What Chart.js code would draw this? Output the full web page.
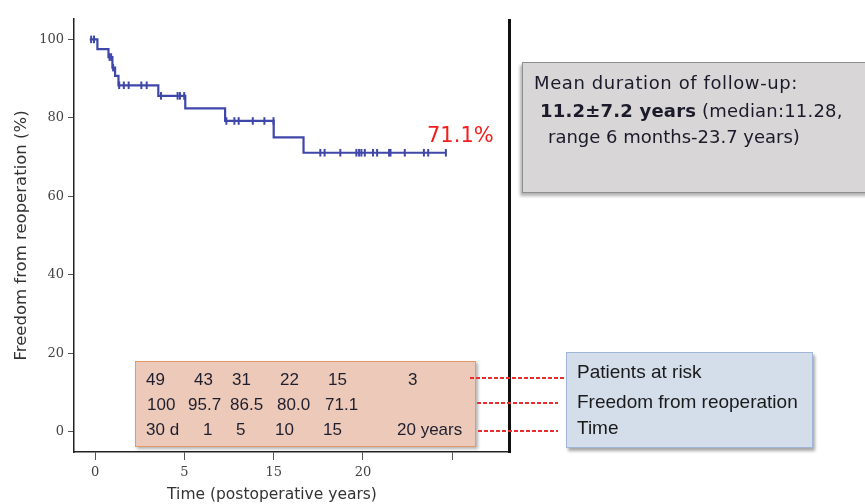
<!DOCTYPE html>
<html>
<head>
<meta charset="utf-8">
<script src="https://cdn.jsdelivr.net/npm/chart.js@4.4.1/dist/chart.umd.min.js"></script>
<style>
  html, body { margin: 0; padding: 0; background: #fff; }
  #wrap { position: relative; width: 865px; height: 504px; overflow: hidden; }
  canvas { position: absolute; left: 0; top: 0; }
  .abs { position: absolute; white-space: nowrap; }
  .box { position: absolute; box-sizing: border-box; }
  .dash { position: absolute; height: 2px;
    background: repeating-linear-gradient(90deg, #e62e2e 0 4px, transparent 4px 6px); }
  .tbl { font-family: "Liberation Sans", Arial, sans-serif; font-size: 17px; line-height: 20px; color: #1e1e2e; }
  .lbl { font-family: "Liberation Sans", Arial, sans-serif; font-size: 19px; line-height: 22px; color: #1a1a1a; }
  .gry { font-family: "DejaVu Sans", sans-serif; font-size: 18px; line-height: 22px; color: #1a1a2a; }
</style>
</head>
<body>
<div id="wrap">
  <canvas id="kmChart" width="865" height="504"></canvas>
</div>
<script>
// Kaplan-Meier steps (x in axis units, ticks every 5)
const stepTimes = [-0.3, 0.13, 0.75, 0.97, 1.12, 1.31, 3.54, 5.05, 7.28, 10.0, 11.67, 19.64];
const stepLevels = [100, 97.5, 95.5, 92.8, 90.7, 88.3, 85.6, 82.4, 79.2, 75.0, 71.1, 71.1];

// censored observations
const censorTimes = [-0.22, -0.06, 0.81, 0.9, 1.01,
  1.35, 1.61, 1.88, 2.59, 2.89,
  3.69, 4.62, 4.75, 4.99,
  7.35, 7.8, 8.04, 8.83, 9.48, 9.99,
  12.61, 12.85, 13.73, 14.63, 14.78, 14.91, 15.1, 15.56, 15.79, 16.46, 16.54, 17.34, 18.41, 18.65, 19.64];
const censorLevels = [100, 100, 95.5, 95.5, 92.8,
  88.3, 88.3, 88.3, 88.3, 88.3,
  85.6, 85.6, 85.6, 85.6,
  79.2, 79.2, 79.2, 79.2, 79.2, 79.2,
  71.1, 71.1, 71.1, 71.1, 71.1, 71.1, 71.1, 71.1, 71.1, 71.1, 71.1, 71.1, 71.1, 71.1, 71.1];

const xTickValues = [0, 5, 10, 15, 20];
const xTickLabels = ['0', '5', '15', '20', ''];
const yTickValues = [0, 20, 40, 60, 80, 100];

// table under the curve
const atRisk = ['49', '43', '31', '22', '15', '3'];
const freedomPct = ['100', '95.7', '86.5', '80.0', '71.1'];
const timeLabels = ['30 d', '1', '5', '10', '15', '20 years'];
const rowNames = ['Patients at risk', 'Freedom from reoperation', 'Time'];

const curveColor = '#3f47a9';
const tickFont = { family: 'DejaVu Serif', size: 13 };

new Chart(document.getElementById('kmChart'), {
  type: 'line',
  data: {
    datasets: [
      {
        data: stepTimes.map((t, i) => ({ x: t, y: stepLevels[i] })),
        stepped: true,
        borderColor: curveColor,
        borderWidth: 2.2,
        pointRadius: 0,
        fill: false
      },
      {
        data: censorTimes.map((t, i) => ({ x: t, y: censorLevels[i] })),
        showLine: false,
        pointStyle: 'line',
        pointRotation: 90,
        pointRadius: 3.8,
        pointBorderWidth: 2,
        pointBorderColor: curveColor,
        pointBackgroundColor: curveColor
      }
    ]
  },
  options: {
    responsive: false,
    animation: false,
    layout: { padding: { top: 19, right: 355, left: 0, bottom: 0 } },
    plugins: { legend: { display: false }, tooltip: { enabled: false } },
    scales: {
      x: {
        type: 'linear',
        min: -1.18,
        max: 23.23,
        afterBuildTicks: s => { s.ticks = xTickValues.map(v => ({ value: v })); },
        afterFit: s => { s.height = 52; },
        grid: { drawOnChartArea: false, tickLength: 8, color: '#555' },
        border: { color: '#222', width: 1.5 },
        ticks: {
          font: tickFont,
          color: '#444',
          padding: 5,
          maxRotation: 0,
          autoSkip: false,
          callback: (v, i) => xTickLabels[i]
        },
        title: { display: false }
      },
      y: {
        min: -5.2,
        max: 105.2,
        afterBuildTicks: s => { s.ticks = yTickValues.map(v => ({ value: v })); },
        afterFit: s => { s.width = 74; },
        grid: { drawOnChartArea: false, tickLength: 6, color: '#555' },
        border: { color: '#222', width: 1.5 },
        ticks: { font: tickFont, color: '#444', padding: 4 },
        title: {
          display: true,
          text: 'Freedom from reoperation (%)',
          font: { family: 'DejaVu Sans', size: 16.5 },
          color: '#333',
          padding: { top: 12, bottom: 0 }
        }
      }
    }
  }
});

// overlays: boxes and annotations
const wrap = document.getElementById('wrap');
function add(cls, css, text) {
  const el = document.createElement('div');
  el.className = cls;
  Object.assign(el.style, css);
  if (text !== undefined) el.textContent = text;
  wrap.appendChild(el);
  return el;
}

// x axis title (sits left of the scale centre in the original)
add('abs', {
  left: '272px', top: '484px', transform: 'translateX(-50%)',
  font: '15.5px "DejaVu Sans", sans-serif', lineHeight: '20px', color: '#333'
}, 'Time (postoperative years)');

// thick right divider
add('box', { left: '508px', top: '19px', width: '3px', height: '434px', background: '#111' });

// end-of-curve label
add('abs', { left: '427px', top: '123px', font: '21px "DejaVu Sans", sans-serif', lineHeight: '24px', color: '#f21d1d' }, '71.1%');

// follow-up box
add('box', {
  left: '522px', top: '62px', width: '400px', height: '131px',
  background: '#d8d6d6', border: '1.5px solid #8e8e8e',
  boxShadow: '-2px 3px 3px rgba(0,0,0,0.3)'
});
add('abs gry', { left: '534px', top: '72px', letterSpacing: '0.6px' }, 'Mean duration of follow-up:');
const l2 = add('abs gry', { left: '540px', top: '100px', letterSpacing: '0.2px' });
const b = document.createElement('b');
b.textContent = '11.2\u00b17.2 years';
l2.appendChild(b);
l2.appendChild(document.createTextNode(' (median:11.28,'));
add('abs gry', { left: '548px', top: '126px' }, 'range 6 months-23.7 years)');

// table box
add('box', {
  left: '135px', top: '361px', width: '341px', height: '86px',
  background: '#ecc9b8', border: '1.5px solid #e39a66',
  boxShadow: '2px 2px 3px rgba(0,0,0,0.3)'
});
const rowTops = [370, 395, 420];
const rowLefts = [
  [146, 194, 232, 280, 328, 408],
  [147, 188, 230, 277, 325],
  [146, 203, 236, 275, 323, 397]
];
[atRisk, freedomPct, timeLabels].forEach((row, r) => {
  row.forEach((txt, c) => {
    add('abs tbl', { left: rowLefts[r][c] + 'px', top: rowTops[r] + 'px' }, txt);
  });
});

// dashed connectors
add('dash', { left: '470px', top: '377px', width: '97px' });
add('dash', { left: '477px', top: '402px', width: '81px' });
add('dash', { left: '478px', top: '430px', width: '80px' });

// row legend box
add('box', {
  left: '566px', top: '352px', width: '247px', height: '96px',
  background: '#d4ddea', border: '1.5px solid #9fb6d6',
  boxShadow: '2px 3px 3px rgba(0,0,0,0.35)'
});
[361, 391, 417].forEach((t, i) => {
  add('abs lbl', { left: '577px', top: t + 'px' }, rowNames[i]);
});
</script>
</body>
</html>
